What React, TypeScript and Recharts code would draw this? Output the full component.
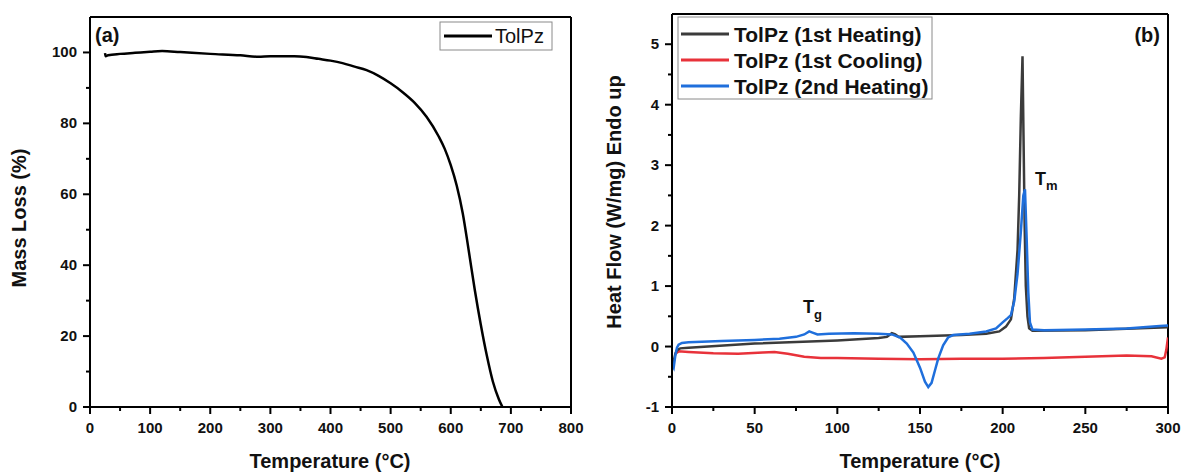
import React from "react";
import { LineChart, Line, XAxis, YAxis, ReferenceLine } from "recharts";

// ---------- TGA (panel a) ----------
const tgaTemp = [25, 26, 30, 50, 75, 100, 120, 150, 200, 250, 280, 300, 340, 360, 380, 400, 420, 440, 460, 480, 500, 520, 540, 560, 580, 590, 600, 610, 620, 630, 640, 650, 660, 670, 680, 686];
const tgaMass = [99.8, 98.9, 99.2, 99.6, 99.9, 100.2, 100.4, 100.1, 99.6, 99.2, 98.8, 98.9, 98.9, 98.7, 98.2, 97.7, 97.0, 96.0, 95.0, 93.4, 91.3, 88.8, 85.8, 81.8, 76.3, 72.8, 68.2, 62.4, 54.6, 44.0, 33.0, 23.2, 14.5, 7.2, 2.2, 0.0];
const tgaXTicks = [0, 50, 100, 150, 200, 250, 300, 350, 400, 450, 500, 550, 600, 650, 700, 750, 800];
const tgaYTicks = [0, 10, 20, 30, 40, 50, 60, 70, 80, 90, 100];

// ---------- DSC (panel b) ----------
const heat1Temp = [0, 1, 2, 3, 5, 10, 50, 100, 125, 130, 133, 135, 137, 150, 175, 190, 198, 202, 205, 207, 209, 210, 211, 212, 212.6, 213.3, 214, 215, 216, 218, 250, 300];
const heat1Flow = [-0.2, -0.25, -0.12, -0.06, -0.03, -0.02, 0.05, 0.1, 0.14, 0.16, 0.22, 0.2, 0.16, 0.17, 0.19, 0.21, 0.25, 0.33, 0.45, 0.8, 1.6, 2.5, 3.8, 4.8, 3.5, 2.0, 1.0, 0.5, 0.3, 0.26, 0.27, 0.32];

const coolTemp = [2, 4, 10, 25, 40, 55, 62, 70, 80, 90, 100, 125, 150, 175, 200, 225, 250, 275, 290, 296, 298, 299, 300];
const coolFlow = [-0.12, -0.08, -0.09, -0.11, -0.12, -0.1, -0.09, -0.12, -0.17, -0.19, -0.19, -0.2, -0.21, -0.2, -0.2, -0.19, -0.17, -0.15, -0.16, -0.2, -0.18, -0.05, 0.15];

const heat2Temp = [0, 1, 2, 3, 4, 6, 10, 30, 50, 65, 75, 80, 83, 85, 88, 95, 110, 125, 133, 138, 142, 146, 150, 153, 155, 157, 159, 161, 164, 167, 170, 180, 190, 196, 200, 203, 205, 207, 209, 211, 212.5, 213.5, 214.5, 215.5, 216.5, 218, 225, 250, 275, 295, 300];
const heat2Flow = [-0.3, -0.35, -0.15, -0.02, 0.03, 0.06, 0.07, 0.09, 0.11, 0.13, 0.16, 0.2, 0.25, 0.23, 0.2, 0.21, 0.22, 0.21, 0.2, 0.15, 0.05, -0.1, -0.35, -0.58, -0.67, -0.6, -0.4, -0.2, 0.02, 0.15, 0.19, 0.21, 0.25, 0.3, 0.4, 0.47, 0.52, 0.75, 1.2, 1.9, 2.5, 2.6, 1.8, 0.9, 0.4, 0.28, 0.27, 0.28, 0.3, 0.34, 0.35];

const dscXTicks = [0, 25, 50, 75, 100, 125, 150, 175, 200, 225, 250, 275, 300];
const dscYTicks = [-1, -0.5, 0, 0.5, 1, 1.5, 2, 2.5, 3, 3.5, 4, 4.5, 5];

const legendA = ["TolPz"];
const legendB = ["TolPz (1st Heating)", "TolPz (1st Cooling)", "TolPz (2nd Heating)"];

const toRows = (xs: number[], ys: number[]) => xs.map((t, i) => ({ t, v: ys[i] }));
const tgaData = toRows(tgaTemp, tgaMass);
const heat1Data = toRows(heat1Temp, heat1Flow);
const coolData = toRows(coolTemp, coolFlow);
const heat2Data = toRows(heat2Temp, heat2Flow);

const FONT = "'Liberation Sans', Arial, sans-serif";
const C_BLACK = "#3b3b3b";
const C_RED = "#e8323a";
const C_BLUE = "#1f6fdc";

const makeXTick = (major: number) => (props: any) => {
  const { x, y, payload } = props;
  const v = payload.value;
  const isMajor = Math.abs(v / major - Math.round(v / major)) < 1e-9;
  return (
    <g>
      <line x1={x} y1={y} x2={x} y2={y + (isMajor ? 7 : 4)} stroke="#000" strokeWidth={2} />
      {isMajor && (
        <text x={x} y={y + 26} textAnchor="middle" fontFamily={FONT} fontWeight="bold" fontSize={15} fill="#111">
          {v}
        </text>
      )}
    </g>
  );
};

const makeYTick = (major: number) => (props: any) => {
  const { x, y, payload } = props;
  const v = payload.value;
  const isMajor = Math.abs(v / major - Math.round(v / major)) < 1e-9;
  return (
    <g>
      <line x1={x - (isMajor ? 7 : 4)} y1={y} x2={x} y2={y} stroke="#000" strokeWidth={2} />
      {isMajor && (
        <text x={x - 13} y={y + 5} textAnchor="end" fontFamily={FONT} fontWeight="bold" fontSize={15} fill="#111">
          {v}
        </text>
      )}
    </g>
  );
};

export default function App() {
  return (
    <div style={{ position: "absolute", left: 0, top: 0, width: 1186, height: 475, background: "#fff", overflow: "hidden" }}>
      <div style={{ position: "absolute", left: 0, top: 0 }}>
        <LineChart width={600} height={475} margin={{ top: 17, right: 29, bottom: 18, left: 0 }}>
          <XAxis
            type="number"
            dataKey="t"
            domain={[0, 800]}
            ticks={tgaXTicks}
            allowDataOverflow
            height={50}
            tickSize={0}
            tickMargin={0}
            tickLine={false}
            axisLine={{ stroke: "#000", strokeWidth: 2 }}
            tick={makeXTick(100)}
            interval={0}
          />
          <YAxis
            type="number"
            dataKey="v"
            domain={[0, 110]}
            ticks={tgaYTicks}
            allowDataOverflow
            width={90}
            tickSize={0}
            tickMargin={0}
            tickLine={false}
            axisLine={{ stroke: "#000", strokeWidth: 2 }}
            tick={makeYTick(20)}
            interval={0}
          />
          <ReferenceLine x={800} stroke="#000" strokeWidth={2} />
          <ReferenceLine y={110} stroke="#000" strokeWidth={2} />
          <Line data={tgaData} dataKey="v" type="monotone" stroke="#000" strokeWidth={2.5} dot={false} isAnimationActive={false} />
        </LineChart>
      </div>
      <div style={{ position: "absolute", left: 600, top: 0 }}>
        <LineChart width={586} height={475} margin={{ top: 14, right: 18, bottom: 18, left: 0 }}>
          <XAxis
            type="number"
            dataKey="t"
            domain={[0, 300]}
            ticks={dscXTicks}
            allowDataOverflow
            height={50}
            tickSize={0}
            tickMargin={0}
            tickLine={false}
            axisLine={{ stroke: "#000", strokeWidth: 2 }}
            tick={makeXTick(50)}
            interval={0}
          />
          <YAxis
            type="number"
            dataKey="v"
            domain={[-1, 5.5]}
            ticks={dscYTicks}
            allowDataOverflow
            width={72}
            tickSize={0}
            tickMargin={0}
            tickLine={false}
            axisLine={{ stroke: "#000", strokeWidth: 2 }}
            tick={makeYTick(1)}
            interval={0}
          />
          <ReferenceLine x={300} stroke="#000" strokeWidth={2} />
          <ReferenceLine y={5.5} stroke="#000" strokeWidth={2} />
          <Line data={coolData} dataKey="v" type="linear" stroke={C_RED} strokeWidth={2.5} dot={false} isAnimationActive={false} />
          <Line data={heat1Data} dataKey="v" type="linear" stroke={C_BLACK} strokeWidth={2.5} dot={false} isAnimationActive={false} />
          <Line data={heat2Data} dataKey="v" type="linear" stroke={C_BLUE} strokeWidth={2.5} dot={false} isAnimationActive={false} />
        </LineChart>
      </div>
      <svg width={1186} height={475} style={{ position: "absolute", left: 0, top: 0, pointerEvents: "none" }}>
        <g fontFamily={FONT} fontWeight="bold" fill="#111">
          <text x={26} y={218} fontSize={20} textAnchor="middle" transform="rotate(-90 26 218)">Mass Loss (%)</text>
          <text x={330} y={468} fontSize={20} textAnchor="middle">Temperature (°C)</text>
          <text x={920} y={468} fontSize={20} textAnchor="middle">Temperature (°C)</text>
          <text x={621} y={202} fontSize={20} textAnchor="middle" transform="rotate(-90 621 202)">Heat Flow (W/mg) Endo up</text>
          <text x={95} y={42} fontSize={20}>(a)</text>
          <text x={1160} y={42} fontSize={20} textAnchor="end">(b)</text>
          <text x={803} y={313} fontSize={18}>T<tspan fontSize={13} dy={6}>g</tspan></text>
          <text x={1035} y={185} fontSize={18}>T<tspan fontSize={13} dy={5}>m</tspan></text>
        </g>
        <g>
          <rect x={440} y={22} width={112} height={28} fill="#fff" stroke="#8a8a8a" strokeWidth={1} />
          <line x1={444} y1={36} x2={492} y2={36} stroke="#000" strokeWidth={3} />
          <text x={495} y={43} fontFamily={FONT} fontSize={20} fill="#111">{legendA[0]}</text>
        </g>
        <g>
          <rect x={678} y={17} width={254} height={82} fill="#fff" stroke="#8a8a8a" strokeWidth={1} />
          {legendB.map((name, i) => {
            const cy = 34 + i * 26;
            const col = [C_BLACK, C_RED, C_BLUE][i];
            return (
              <g key={name}>
                <line x1={681} y1={cy} x2={729} y2={cy} stroke={col} strokeWidth={3} />
                <text x={734} y={cy + 8} fontFamily={FONT} fontWeight="bold" fontSize={21} fill="#111">{name}</text>
              </g>
            );
          })}
        </g>
      </svg>
    </div>
  );
}
